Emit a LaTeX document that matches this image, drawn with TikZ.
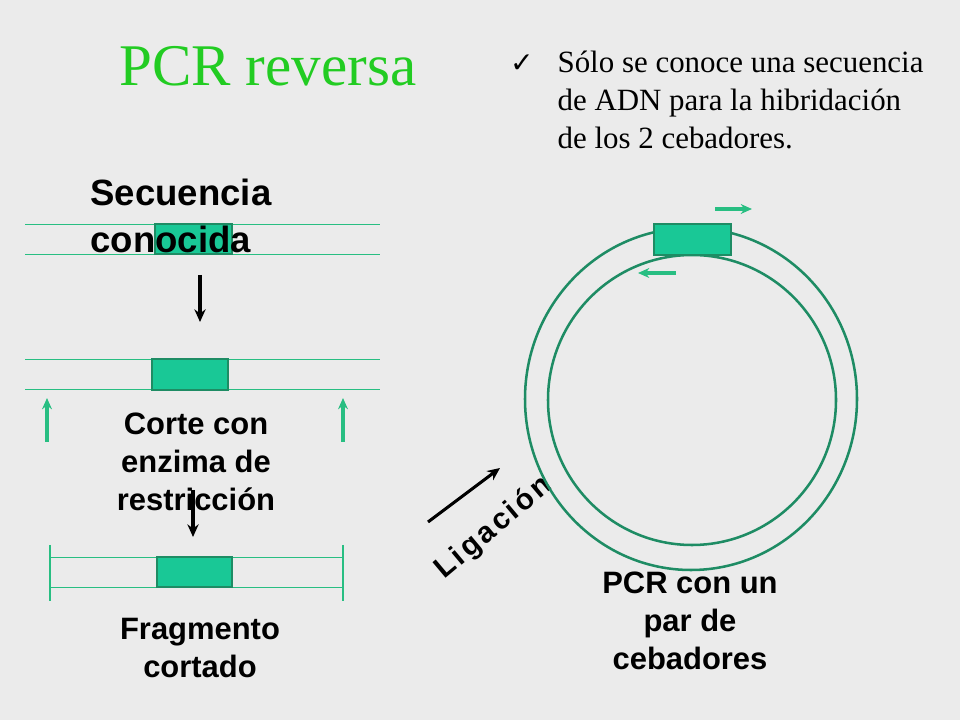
\documentclass[tikz,border=0pt]{standalone}
\usepackage{fontspec}
\setmainfont{Liberation Serif}
\setsansfont{Liberation Sans}
\newfontfamily\symfont{DejaVu Sans}
\usetikzlibrary{positioning, arrows.meta}
\definecolor{bg}{RGB}{235, 235, 235}
\definecolor{title}{RGB}{34, 204, 34}
\definecolor{strand}{RGB}{40, 190, 130}
\definecolor{box}{RGB}{25, 200, 150}
\definecolor{ring}{RGB}{30, 140, 100}

\begin{document}
\begin{tikzpicture}[x=0.025cm, y=-0.025cm, thick,
  strandline/.style={draw=strand, line width=0.6pt},
  genebox/.style={draw=ring, fill=box, line width=1pt},
  blackarrow/.style={-{Stealth[length=9pt, width=8pt]}, line width=2.2pt},
  greenarrow/.style={-{Stealth[length=8pt, width=7pt]}, draw=strand, line width=2.2pt},
  label/.style={font=\sffamily\bfseries\fontsize{22}{27}\selectfont, align=center}]
  \fill[bg] (0, 0) rectangle (960, 720);

  % Title and note
  \node (title) at (268, 66) {\color{title}\fontsize{42}{48}\selectfont PCR reversa};
  \node (check) at (522, 64) {\symfont\fontsize{20}{24}\selectfont ✓};
  \node[anchor=north west, align=left, inner sep=0pt, font=\fontsize{22}{27}\selectfont] (note) at (557, 50)
    {Sólo se conoce una secuencia\\de ADN para la hibridación\\de los 2 cebadores.};

  % Known sequence
  \draw[strandline] (25, 224) -- (380, 224) (25, 254) -- (380, 254);
  \draw[genebox] (155, 224) rectangle (232, 254);
  \node[anchor=north west, inner sep=0pt, align=left, font=\sffamily\bfseries\fontsize{26}{34}\selectfont] (known) at (90, 178)
    {Secuencia\\conocida};
  \coordinate (a1) at (200, 275);
  \coordinate (a2) at (200, 322);
  \draw[blackarrow] (a1) -- (a2);

  % Cut
  \draw[strandline] (25, 359) -- (380, 359) (25, 389) -- (380, 389);
  \draw[genebox] (152, 359) rectangle (228, 390);
  \foreach \x in {47, 343} {
    \draw[greenarrow] (\x, 442) -- (\x, 398);
  }
  \node[label] (cut) at (196, 462) {Corte con\\enzima de\\restricción};
  \coordinate (b1) at (193, 490);
  \coordinate (b2) at (193, 537);
  \draw[blackarrow] (b1) -- (b2);

  % Fragment
  \draw[strandline] (50, 557) -- (343, 557) (50, 587) -- (343, 587);
  \draw[draw=strand, line width=1.8pt] (50, 545) -- (50, 601) (343, 545) -- (343, 601);
  \draw[genebox] (157, 557) rectangle (232, 587);
  \node[label] (frag) at (200, 648) {Fragmento\\cortado};

  % Ligation
  \coordinate (c1) at (428, 522);
  \coordinate (c2) at (500, 468);
  \draw[blackarrow] (c1) -- (c2);
  \node[rotate=40, font=\sffamily\bfseries\fontsize{21}{26}\selectfont\addfontfeature{LetterSpace=10}] (lig) at (494, 528) {Ligación};

  % Circle
  \draw[draw=ring, line width=1.8pt] (691, 399) ellipse (166 and 171);
  \draw[draw=ring, line width=1.8pt] (692, 400) ellipse (144 and 145);
  \draw[genebox] (654, 224) rectangle (731, 255);
  \draw[greenarrow] (715, 209) -- (752, 209);
  \draw[greenarrow] (676, 273) -- (638, 273);
  \node[label] (pcr) at (690, 621) {PCR con un\\par de\\cebadores};
\end{tikzpicture}
\end{document}
